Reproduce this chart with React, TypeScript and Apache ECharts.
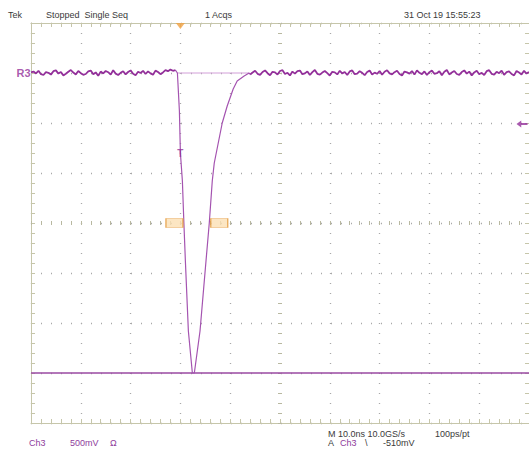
import React, { useEffect, useRef } from "react";
import * as echarts from "echarts";

// ---- axes (ns / V) ----
const TIME_MIN = -30;
const TIME_MAX = 70;
const TIME_DIV = 10;
const VOLT_MIN = -3.5;
const VOLT_MAX = 0.5;
const VOLT_DIV = 0.5;

// ---- waveform samples ----
const SAMPLE_STEP = 0.5; // ns between baseline samples
const LEFT_START = -30;
const RIGHT_START = 14;
const noiseLeftMv = [
  6, 14, -4, 22, -12, -20, 8, 2, -16, 18, 26, -6, 10, -24, -8, 12, 30, 4, -14, 20,
  -2, -18, -10, 16, 24, -12, 6, -28, 14, -4, 20, 8, -16, 28, -6, -20, 2, 18, -14, 10,
  26, -8, -22, 12, 0, 22, -10, 16, -4, -18, 24, 10, -12, 6, 28, 18, 34, 22, 28,
];
const fallEdgeT = [-0.6, -0.2, 0, 0.4, 0.7, 1.0, 1.6, 2.4];
const fallEdgeV = [0, -0.38, -0.8, -1.08, -1.5, -1.88, -2.58, -3.0];
const riseEdgeT = [2.8, 3.94, 5.14, 5.8, 6.4, 6.8, 8.4, 9.4, 10.6, 11.4, 12.8, 13.8];
const riseEdgeV = [-3.0, -2.58, -1.88, -1.5, -1.08, -0.9, -0.5, -0.33, -0.16, -0.08, -0.03, 0];
const noiseRightMv = [
  -14, 4, 22, -8, -18, 10, 26, -2, -22, 12,
  6, -16, 20, 28, -10, 2, -24, 14, -6, 18,
  24, -12, -4, 16, -20, 8, 30, -8, -16, 4,
  20, -2, -26, 12, 6, -14, 22, -4, 10, -20,
  16, 26, -12, -6, 18, 2, -22, 10, 24, -16,
  4, -8, 20, -18, 12, 28, -4, -14, 8, 22,
  -10, -24, 14, 6, -6, 20, -16, 26, 2, -12,
  16, -20, 8, 24, -8, -2, 18, -22, 12, 30,
  -14, 4, 20, -10, -18, 10, 26, -6, 14, -24,
  6, 22, -12, 2, -20, 18, 28, -8, -16, 12,
  -2, 24, -18, 8, 16, -10, -24, 20, 4, -14,
  22, -6, 10,
];
const bottomLevel = -3.0;
const triggerTime = 0;
const triggerLevel = -0.51;
const triggerPointV = -0.8;
const cursorTimes = [-1.2, 7.8];
const cursorLevel = -1.5;
const arrowTime = 68.6;

// ---- texts ----
const topTexts = [
  { text: "Tek", x: 8 },
  { text: "Stopped  Single Seq", x: 46 },
  { text: "1 Acqs", x: 205 },
  { text: "31 Oct 19 15:55:23", x: 404 },
];

const TRACE = "#93309a";
const PULSE = "#a453b0";
const LIGHT = "#d29fd8";
const FRAME = "#c6c6aa";
const DOTS = "#a9a9a9";
const ORANGE = "#f0a040";
const TEXT_DARK = "#3a3a3a";
const TEXT_PURPLE = "#8e3c9c";
const FONT = '"Liberation Sans", Arial, sans-serif';

function frameAxis(extra: any) {
  return {
    type: "value",
    axisLine: { show: true, onZero: false, lineStyle: { color: FRAME, width: 1 } },
    axisTick: { show: true, inside: true, length: 4, lineStyle: { color: FRAME } },
    minorTick: { show: true, splitNumber: 5, length: 4, lineStyle: { color: FRAME } },
    axisLabel: { show: false },
    splitLine: { show: false },
    ...extra,
  };
}

function centerAxis(gridIndex: number, inside: boolean, half: number) {
  return {
    type: "value",
    gridIndex,
    min: -half,
    max: half,
    interval: 1,
    axisLine: { show: true, onZero: true, lineStyle: { color: "rgba(0,0,0,0)", width: 1 } },
    axisTick: { show: true, inside, length: 2, lineStyle: { color: "#b8b8a0" } },
    minorTick: { show: true, splitNumber: 5, length: 2, lineStyle: { color: "#b8b8a0" } },
    axisLabel: { show: false },
    splitLine: { show: false },
  };
}

export default function App() {
  const ref = useRef<HTMLDivElement>(null);
  useEffect(() => {
    if (!ref.current) return;
    const chart = echarts.init(ref.current, undefined, { renderer: "svg" });

    const noiseLeft = noiseLeftMv.map((mv, i) => [LEFT_START + i * SAMPLE_STEP, mv / 1000]);
    const noiseRight = noiseRightMv.map((mv, i) => [RIGHT_START + i * SAMPLE_STEP, mv / 1000]);
    const pulse = [
      noiseLeft[noiseLeft.length - 1],
      ...fallEdgeT.map((t, i) => [t, fallEdgeV[i]]),
      ...riseEdgeT.map((t, i) => [t, riseEdgeV[i]]),
      noiseRight[0],
    ];

    const gridBox = { left: 31, top: 23, width: 500, height: 400 };
    const dotted = { show: true, lineStyle: { color: DOTS, type: [1, 9], width: 1.3 } };

    const texts: any[] = topTexts.map((t) => ({
      type: "text",
      x: t.x,
      y: 15,
      style: { text: t.text, fill: TEXT_DARK, font: `9px ${FONT}`, verticalAlign: "middle" },
    }));
    const bottom = [
      { text: "Ch3", x: 29, y: 443, c: TEXT_PURPLE },
      { text: "500mV", x: 70, y: 443, c: TEXT_PURPLE },
      { text: "Ω", x: 110, y: 443, c: TEXT_PURPLE },
      { text: "M 10.0ns 10.0GS/s", x: 328, y: 434, c: TEXT_DARK },
      { text: "100ps/pt", x: 435, y: 434, c: TEXT_DARK },
      { text: "A", x: 328, y: 443, c: TEXT_DARK },
      { text: "Ch3", x: 340, y: 443, c: TEXT_PURPLE },
      { text: "\\", x: 365, y: 443, c: TEXT_DARK },
      { text: "-510mV", x: 383, y: 443, c: TEXT_DARK },
    ];
    bottom.forEach((b) =>
      texts.push({
        type: "text",
        x: b.x,
        y: b.y,
        style: { text: b.text, fill: b.c, font: `9px ${FONT}`, verticalAlign: "middle" },
      })
    );

    chart.setOption({
      animation: false,
      backgroundColor: "#ffffff",
      grid: [gridBox, gridBox, gridBox],
      xAxis: [
        frameAxis({ gridIndex: 0, min: TIME_MIN, max: TIME_MAX, interval: TIME_DIV, position: "bottom", splitLine: dotted }),
        frameAxis({ gridIndex: 0, min: TIME_MIN, max: TIME_MAX, interval: TIME_DIV, position: "top" }),
        centerAxis(1, false, 5),
        centerAxis(2, true, 5),
      ],
      yAxis: [
        frameAxis({ gridIndex: 0, min: VOLT_MIN, max: VOLT_MAX, interval: VOLT_DIV, position: "left", splitLine: dotted }),
        frameAxis({ gridIndex: 0, min: VOLT_MIN, max: VOLT_MAX, interval: VOLT_DIV, position: "right" }),
        centerAxis(1, false, 4),
        centerAxis(2, true, 4),
      ],
      series: [
        {
          type: "line",
          data: [[TIME_MIN, bottomLevel], [TIME_MAX, bottomLevel]],
          showSymbol: false,
          lineStyle: { color: "#9a4aa2", width: 1.6 },
          z: 3,
        },
        {
          type: "line",
          data: [[fallEdgeT[0], 0], [riseEdgeT[riseEdgeT.length - 1], 0]],
          showSymbol: false,
          lineStyle: { color: LIGHT, width: 1 },
          z: 3,
        },
        {
          type: "line",
          data: pulse,
          showSymbol: false,
          lineStyle: { color: PULSE, width: 1.2 },
          z: 4,
        },
        {
          type: "line",
          data: noiseLeft,
          showSymbol: false,
          lineStyle: { color: TRACE, width: 1.8 },
          z: 4,
        },
        {
          type: "line",
          data: noiseRight,
          showSymbol: false,
          lineStyle: { color: TRACE, width: 1.8 },
          z: 4,
        },
        {
          type: "scatter",
          data: [[triggerTime, triggerPointV]],
          symbolSize: 1,
          itemStyle: { color: "transparent" },
          label: { show: true, formatter: "T", position: "inside", color: TRACE, fontWeight: "bold", fontSize: 10, fontFamily: FONT },
          z: 6,
        },
        {
          type: "scatter",
          data: [[triggerTime, VOLT_MAX]],
          symbol: "triangle",
          symbolRotate: 180,
          symbolSize: [9, 6],
          symbolOffset: [0, 3],
          itemStyle: { color: ORANGE },
          clip: false,
          z: 6,
        },
        {
          type: "scatter",
          data: [[arrowTime, triggerLevel]],
          symbol: "path://M0,5 L6,0 L6,3.5 L14,3.5 L14,6.5 L6,6.5 L6,10 Z",
          symbolSize: [11, 7],
          itemStyle: { color: TRACE },
          clip: false,
          z: 6,
        },
        {
          type: "scatter",
          data: [[TIME_MIN, 0]],
          symbolSize: 1,
          itemStyle: { color: "transparent" },
          label: { show: true, formatter: "R3", position: "left", distance: 0, color: TRACE, fontWeight: "bold", fontSize: 11, fontFamily: FONT },
          clip: false,
          z: 6,
        },
        {
          type: "scatter",
          data: cursorTimes.map((t) => [t, cursorLevel]),
          symbol: "rect",
          symbolSize: [17, 9],
          itemStyle: { color: "#fbe0b4", borderColor: "#e49a3c", borderWidth: 1 },
          z: 6,
        },
      ],
      graphic: texts,
    });
    return () => chart.dispose();
  }, []);
  return (
    <div
      ref={ref}
      style={{ position: "absolute", left: 0, top: 0, width: 529, height: 452, background: "#fff" }}
    />
  );
}
